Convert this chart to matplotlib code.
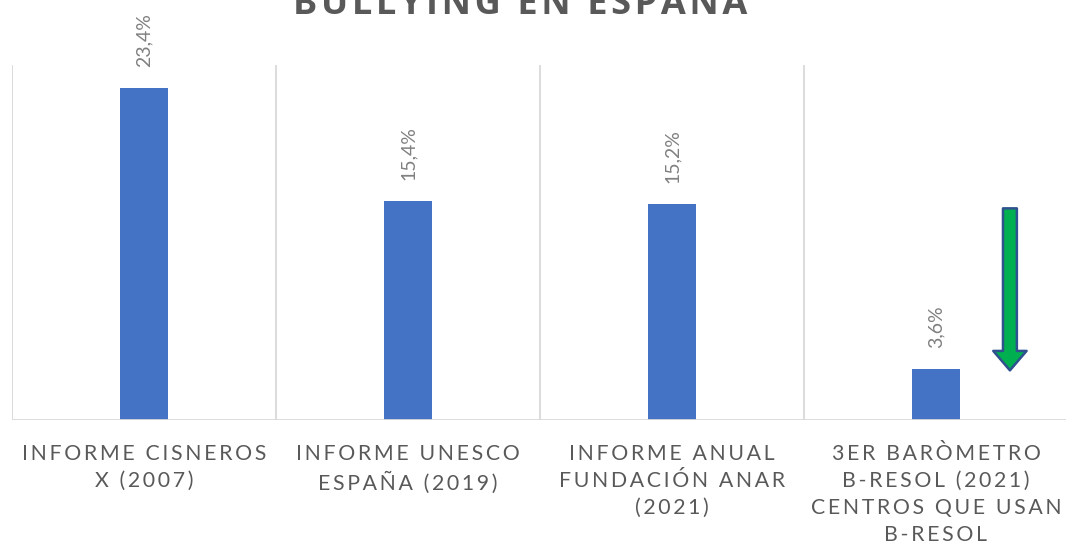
import matplotlib
matplotlib.use("Agg")
import matplotlib.pyplot as plt

# data
categories = ["INFORME CISNEROS\nX (2007)",
              "INFORME UNESCO\nESPAÑA (2019)",
              "INFORME ANUAL\nFUNDACIÓN ANAR\n(2021)",
              "3ER BARÒMETRO\nB-RESOL (2021)\nCENTROS QUE USAN\nB-RESOL"]
values = [23.4, 15.4, 15.2, 3.6]
value_labels = ["23,4%", "15,4%", "15,2%", "3,6%"]
title = "BULLYING EN ESPAÑA"


def spaced(s, sp="\u2009"):
    # fake the letter spacing of the original
    return "\n".join(sp.join(line) for line in s.split("\n"))


plt.rcParams["font.family"] = ["Lato", "DejaVu Sans"]
grey = "#595959"

fig = plt.figure(figsize=(10.66, 5.5), dpi=100)
ax = fig.add_axes([12 / 1066, 1 - 420 / 550, 1056 / 1066, 355 / 550])

x = list(range(len(values)))
ax.bar(x, values, width=0.18, color="#4472C4", zorder=3)
for xi, v, lab in zip(x, values, value_labels):
    ax.annotate(lab, (xi, v), xytext=(0, 15), textcoords="offset points",
                rotation=90, ha="center", va="bottom", fontsize=14,
                color="#808080", annotation_clip=False)

ax.set_xlim(-0.5, 3.5)
ax.set_ylim(0, 25)
for b in [-0.5, 0.5, 1.5, 2.5, 3.5]:
    ax.axvline(b, color="#d9d9d9", lw=1.3, zorder=1)
ax.axhline(0, color="#d9d9d9", lw=2, zorder=4)
for s in ax.spines.values():
    s.set_visible(False)
ax.set_yticks([])
ax.set_xticks(x)
ax.set_xticklabels([spaced(c) for c in categories], fontsize=15.3,
                   color=grey, linespacing=1.45)
ax.tick_params(axis="x", length=0, pad=17)

# green arrow pointing down next to the last bar
ax.annotate("", xy=(3.28, 3.3), xytext=(3.28, 15.1),
            arrowprops=dict(arrowstyle="simple,head_length=1.4,head_width=2.4,tail_width=1.0",
                            fc="#00B050", ec="#2F528F", lw=1.8),
            annotation_clip=False)

fig.text(520 / 1066, 1 - 14 / 550, spaced(title, "\u200a"), ha="center",
         va="baseline", fontsize=26, fontweight="bold", color=grey,
         family=["Open Sans", "DejaVu Sans"])

fig.savefig("out.png")
